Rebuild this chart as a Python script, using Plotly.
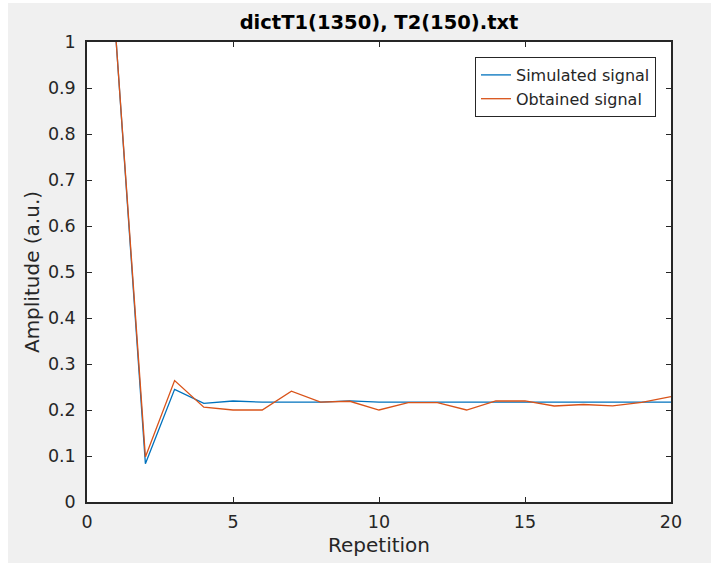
import plotly.graph_objects as go

repetition = list(range(1, 21))
simulated = [1.0, 0.083, 0.245, 0.2145, 0.2196, 0.217, 0.217, 0.217, 0.22, 0.217,
             0.217, 0.217, 0.217, 0.217, 0.217, 0.217, 0.217, 0.217, 0.217, 0.217]
obtained = [1.0, 0.098, 0.264, 0.206, 0.2, 0.2, 0.241, 0.217, 0.219, 0.2,
            0.216, 0.216, 0.2, 0.2196, 0.2196, 0.2087, 0.212, 0.209, 0.2167, 0.229]
x_ticks = [0, 5, 10, 15, 20]
y_ticks = [0, 0.1, 0.2, 0.3, 0.4, 0.5, 0.6, 0.7, 0.8, 0.9, 1]
y_tick_labels = ["0", "0.1", "0.2", "0.3", "0.4", "0.5", "0.6", "0.7", "0.8", "0.9", "1"]

fig = go.Figure()
fig.add_trace(go.Scatter(x=repetition, y=simulated, mode="lines", name="Simulated signal",
                         line=dict(color="#0072BD", width=1.3)))
fig.add_trace(go.Scatter(x=repetition, y=obtained, mode="lines", name="Obtained signal",
                         line=dict(color="#D95319", width=1.3)))

axis_color = "#262626"
font = "DejaVu Sans"
L, R, T, B = 87, 47, 42, 61
W, H = 718, 563
pw, ph = W - L - R, H - T - B

fig.update_layout(
    width=W, height=H,
    margin=dict(l=L, r=R, t=T, b=B, pad=0, autoexpand=False),
    paper_bgcolor="white",
    plot_bgcolor="white",
    font=dict(family=font, size=16, color=axis_color),
    title=dict(text="<b>dictT1(1350), T2(150).txt</b>", x=(L + pw / 2) / W, xanchor="center",
               y=1 - 22 / H, yanchor="middle", font=dict(size=19.5, color="#000000")),
    showlegend=True,
    legend=dict(x=(656 - L) / pw, xanchor="right", y=(H - B - 57) / ph, yanchor="top",
                bgcolor="white", bordercolor=axis_color, borderwidth=1,
                font=dict(size=16, color=axis_color), tracegroupgap=0),
    xaxis=dict(range=[0, 20], tickvals=x_ticks, ticktext=[str(v) for v in x_ticks],
               ticks="inside", ticklen=5, tickcolor=axis_color, showline=True,
               linecolor=axis_color, linewidth=1.5, mirror="ticks", showgrid=False,
               zeroline=False, ticklabelstandoff=3, automargin=False,
               title=dict(text="Repetition", font=dict(size=20, color=axis_color), standoff=7),
               tickfont=dict(size=17.5)),
    yaxis=dict(range=[0, 1], tickvals=y_ticks, ticktext=y_tick_labels,
               ticks="inside", ticklen=5, tickcolor=axis_color, showline=True,
               linecolor=axis_color, linewidth=1.5, mirror="ticks", showgrid=False,
               zeroline=False, ticklabelstandoff=6, automargin=False,
               title=dict(text="Amplitude (a.u.)", font=dict(size=20, color=axis_color), standoff=3),
               tickfont=dict(size=17.5)),
    shapes=[
        dict(type="rect", xref="paper", yref="paper", layer="below",
             x0=(8 - L) / pw, x1=(711 - L) / pw, y0=(H - B - 563) / ph, y1=(H - B - 3) / ph,
             fillcolor="#f0f0f0", line=dict(width=0)),
        dict(type="rect", xref="paper", yref="paper", layer="below",
             x0=0, x1=1, y0=0, y1=1, fillcolor="white", line=dict(width=0)),
    ],
)

fig.write_html("out.html")
